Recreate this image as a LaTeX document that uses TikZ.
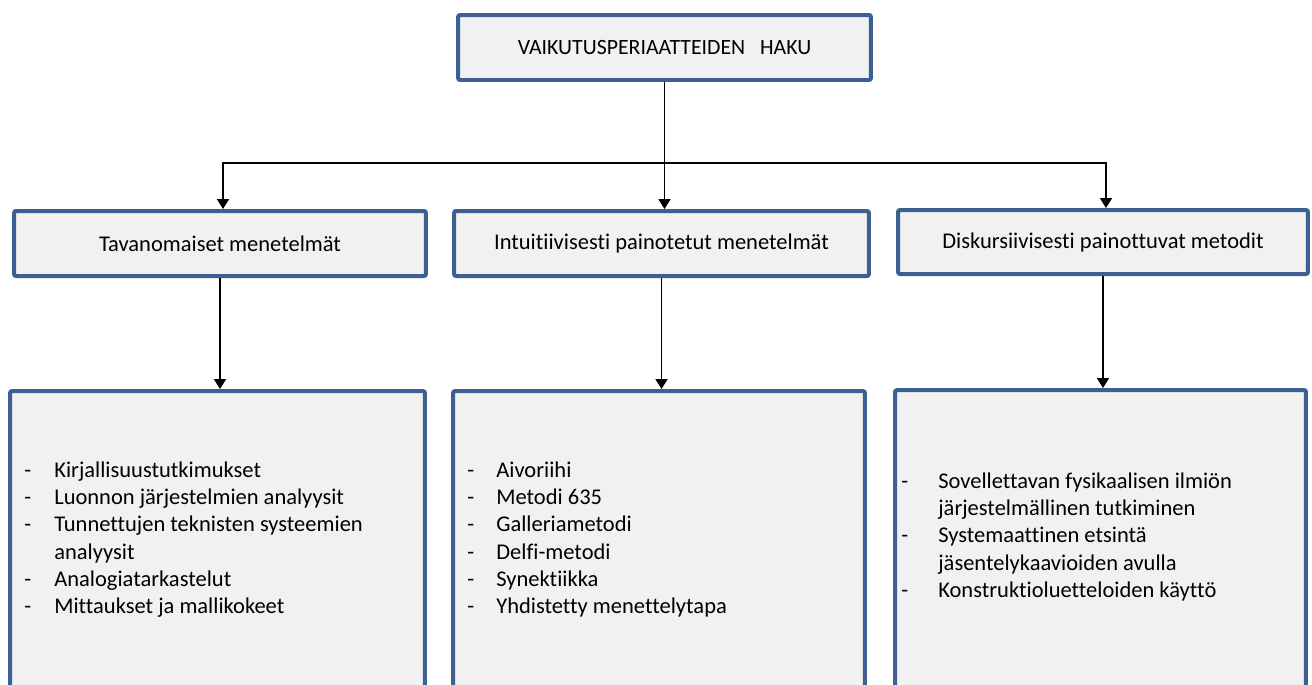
\documentclass[tikz,border=0pt]{standalone}
\usepackage{fontspec}
\setmainfont{Carlito}[Ligatures=NoCommon]
\usetikzlibrary{arrows.meta}
\definecolor{reunasini}{RGB}{60,96,146}
\definecolor{laatikkoharmaa}{RGB}{241,241,241}

\begin{document}
\begin{tikzpicture}[x=0.02cm, y=-0.02cm] % yksi yksikko = yksi kuvapiste
	% Tyylit
	\tikzset{
		laatikko/.style={draw=reunasini, line width=0.08cm, fill=laatikkoharmaa, rounded corners=0.04cm, minimum height=1.3cm, align=center, font=\fontsize{12.8}{15.5}\selectfont},
		lista/.style={anchor=west, inner sep=0pt, font=\fontsize{12.8}{15.5}\selectfont},
		nuoli/.style={-{Triangle[length=0.2cm, width=0.24cm]}, line width=0.035cm, black}
	}
	\path[use as bounding box, clip] (0,0) rectangle (1312,684);

	% Ylin laatikko
	\node[laatikko, minimum width=8.26cm, font=\fontsize{12.4}{15}\selectfont] (Haku) at (664.5,47.5) {VAIKUTUSPERIAATTEIDEN\ \ \ HAKU};

	% Keskimmainen rivi: menetelmaryhmat
	\node[laatikko, minimum width=8.24cm] (Tavanomaiset) at (220,243.5) {Tavanomaiset menetelmät};
	\node[laatikko, minimum width=8.30cm] (Intuitiiviset) at (661.5,243.5) {Intuitiivisesti painotetut menetelmät};
	\node[laatikko, minimum width=8.20cm, minimum height=1.28cm] (Diskursiiviset) at (1103,242) {Diskursiivisesti painottuvat metodit};

	% Alin rivi: laatikot jatkuvat kuvan alareunan yli
	\node[laatikko, minimum width=8.30cm, minimum height=5.94cm] (TavanomaisetLista) at (217.5,539.5) {};
	\node[laatikko, minimum width=8.24cm, minimum height=5.94cm] (IntuitiivisetLista) at (659,539.5) {};
	\node[laatikko, minimum width=8.22cm, minimum height=5.96cm] (DiskursiivisetLista) at (1100.5,539) {};

	% Luettelot
	\node[lista] (TavanomaisetKohdat) at (24,540) {\begin{tabular}{@{}p{0.6cm}@{}l@{}}
		- & Kirjallisuustutkimukset \\
		- & Luonnon järjestelmien analyysit \\
		- & Tunnettujen\ teknisten systeemien \\
		  & analyysit \\
		- & Analogiatarkastelut \\
		- & Mittaukset ja mallikokeet
	\end{tabular}};
	\node[lista] (IntuitiivisetKohdat) at (467,540) {\begin{tabular}{@{}p{0.58cm}@{}l@{}}
		- & Aivoriihi \\
		- & Metodi 635 \\
		- & Galleriametodi \\
		- & Delfi-metodi \\
		- & Synektiikka \\
		- & Yhdistetty menettelytapa
	\end{tabular}};
	\node[lista] (DiskursiivisetKohdat) at (901,537.5) {\begin{tabular}{@{}p{0.74cm}@{}l@{}}
		- & Sovellettavan fysikaalisen ilmiön \\
		  & järjestelmällinen tutkiminen \\
		- & Systemaattinen etsintä \\
		  & jäsentelykaavioiden avulla \\
		- & Konstruktioluetteloiden käyttö
	\end{tabular}};

	% Haarautumiskohta ylimman laatikon alla
	\coordinate (Haara) at (Haku.south |- 0,163);

	% Nuolet ylimmasta laatikosta keskimmaiseen riviin
	\draw[line width=0.035cm] (Haku.south) -- (Haara);
	\draw[nuoli] (Haara) -- (Haara |- Intuitiiviset.north);
	\draw[nuoli] (Haara) -| ([xshift=0.06cm]Tavanomaiset.north);
	\draw[nuoli] (Haara) -| ([xshift=0.06cm]Diskursiiviset.north);

	% Nuolet keskimmaisesta rivista alimpaan
	\draw[nuoli] (Tavanomaiset.south) -- (Tavanomaiset.south |- TavanomaisetLista.north);
	\draw[nuoli] (Intuitiiviset.south) -- (Intuitiiviset.south |- IntuitiivisetLista.north);
	\draw[nuoli] (Diskursiiviset.south) -- (Diskursiiviset.south |- DiskursiivisetLista.north);

\end{tikzpicture}
\end{document}
